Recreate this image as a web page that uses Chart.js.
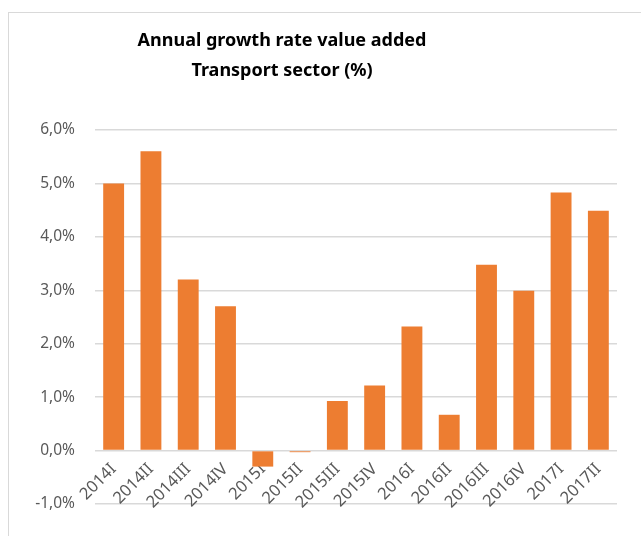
<!DOCTYPE html>
<html>
<head>
<meta charset="utf-8">
<script src="https://cdn.jsdelivr.net/npm/chart.js@4.4.1/dist/chart.umd.min.js"></script>
<style>
  html, body { margin: 0; padding: 0; background: #fff; overflow: hidden; }
  #wrap { position: relative; width: 641px; height: 536px; }
  #frame { position: absolute; left: 8px; top: 12px; width: 700px; height: 600px; border: 1px solid #d9d9d9; }
  canvas { position: absolute; left: 0; top: 0; }
</style>
</head>
<body>
<div id="wrap">
  <div id="frame"></div>
  <canvas id="chart" width="641" height="536"></canvas>
</div>
<script>
const quarters = ['2014I', '2014II', '2014III', '2014IV', '2015I', '2015II', '2015III', '2015IV',
                  '2016I', '2016II', '2016III', '2016IV', '2017I', '2017II'];
const growth = [5.0, 5.6, 3.2, 2.7, -0.3, -0.03, 0.93, 1.22, 2.32, 0.67, 3.48, 2.99, 4.83, 4.49];
const titleLines = ['Annual growth rate value added', 'Transport sector (%)'];
const yTicks = [-1, 0, 1, 2, 3, 4, 5, 6];

const fontFamily = "'Noto Sans', sans-serif";

// draws the two-line title like the Excel original
const titlePlugin = {
    id: 'excelTitle',
    afterDraw(chart) {
        const ctx = chart.ctx;
        ctx.save();
        ctx.fillStyle = '#000';
        ctx.font = 'bold 18px ' + fontFamily;
        ctx.textAlign = 'center';
        ctx.textBaseline = 'alphabetic';
        ctx.fillText(titleLines[0], 282, 46);
        ctx.fillText(titleLines[1], 282, 76);
        ctx.restore();
    }
};

new Chart(document.getElementById('chart'), {
    type: 'bar',
    data: {
        labels: quarters,
        datasets: [{
            label: 'Growth',
            data: growth,
            backgroundColor: '#ED7D31',
            borderWidth: 0,
            categoryPercentage: 1,
            barPercentage: 0.56
        }]
    },
    options: {
        responsive: false,
        animation: false,
        layout: { padding: { left: 0, top: 130, right: 24, bottom: 32 } },
        plugins: {
            legend: { display: false },
            tooltip: { enabled: false }
        },
        scales: {
            x: {
                position: { y: 0 },
                grid: { display: false },
                border: { display: false },
                ticks: {
                    color: '#595959',
                    font: { family: fontFamily, size: 16.5 },
                    minRotation: 45,
                    maxRotation: 45,
                    padding: 1
                }
            },
            y: {
                min: -1,
                max: 6,
                afterBuildTicks(scale) {
                    scale.ticks = yTicks.map(v => ({ value: v }));
                },
                afterFit(scale) { scale.width = 95; },
                grid: { color: '#d9d9d9', lineWidth: 1.5, drawTicks: false },
                border: { display: false },
                ticks: {
                    color: '#595959',
                    font: { family: fontFamily, size: 15.5 },
                    padding: 20,
                    callback: v => v.toFixed(1).replace('.', ',') + '%'
                }
            }
        }
    },
    plugins: [titlePlugin]
});
</script>
</body>
</html>
